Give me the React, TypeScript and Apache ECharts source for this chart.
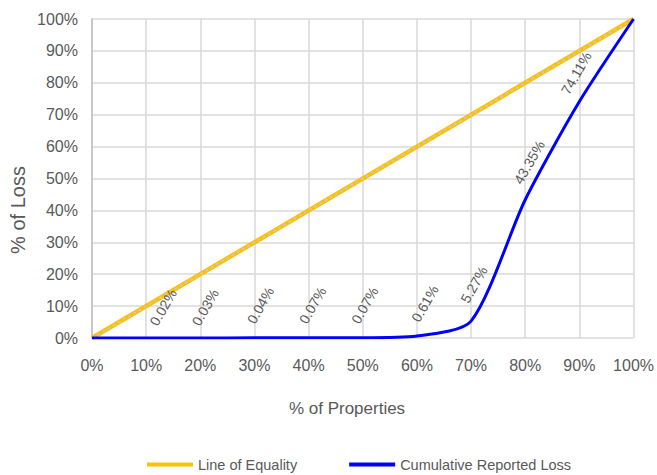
import React, { useEffect, useRef } from "react";
import * as echarts from "echarts";

// Share of properties (x) and cumulative share of reported loss (y), in percent
const propertyShare = [0, 10, 20, 30, 40, 50, 60, 70, 80, 90, 100];
const cumulativeLoss = [0, 0.02, 0.03, 0.04, 0.07, 0.07, 0.61, 5.27, 43.35, 74.11, 100];
const equalityLine = [0, 100];
const tickLabelSuffix = "%";

// Screen-space nudges (px) for each data label's centre, relative to its point
const labelNudgeX = [0, 17, 5, 6, 4, 2, 8, 3, 4, -3, 0];
const labelNudgeY = [0, -30, -30, -32, -32, -32, -32, -36, -37, -28, 0];

const FONT = "'Liberation Sans', Arial, sans-serif";
const GREY_TEXT = "#595959";
const GOLD = "#ffc000";
const BLUE = "#0000ff";
const LABEL_ROTATE = 60;

// ECharts applies label offsets in the label's rotated frame, so convert
function rotatedOffset(sx: number, sy: number): [number, number] {
  const t = (LABEL_ROTATE * Math.PI) / 180;
  const c = Math.cos(t);
  const s = Math.sin(t);
  return [sx * c - sy * s, sx * s + sy * c];
}

export default function App() {
  const ref = useRef<HTMLDivElement>(null);

  useEffect(() => {
    if (!ref.current) return;
    const chart = echarts.init(ref.current, null, { renderer: "svg" });

    const lossPoints = propertyShare.map((x, i) => ({
      value: [x, cumulativeLoss[i]],
      label: {
        show: i > 0 && i < propertyShare.length - 1,
        offset: rotatedOffset(labelNudgeX[i], labelNudgeY[i]),
      },
    }));
    const equalityPoints = equalityLine.map((v) => [v, v]);

    chart.setOption({
      animation: false,
      backgroundColor: "#ffffff",
      textStyle: { fontFamily: FONT },
      grid: { left: 92, right: 21, top: 19, bottom: 137, containLabel: false },
      graphic: [
        {
          type: "text",
          x: 347,
          y: 408,
          style: {
            text: "% of Properties",
            fill: GREY_TEXT,
            font: `17px ${FONT}`,
            align: "center",
            verticalAlign: "middle",
          },
        },
        {
          type: "text",
          x: 18,
          y: 210,
          rotation: Math.PI / 2,
          style: {
            text: "% of Loss",
            fill: GREY_TEXT,
            font: `20px ${FONT}`,
            align: "center",
            verticalAlign: "middle",
          },
        },
      ],
      xAxis: {
        type: "value",
        min: 0,
        max: 100,
        interval: 10,
        axisLine: { show: false },
        axisTick: { show: false },
        axisLabel: {
          color: GREY_TEXT,
          fontSize: 16,
          margin: 19,
          formatter: (v: number) => v + tickLabelSuffix,
        },
        splitLine: { show: true, lineStyle: { color: "#d9d9d9", width: 1.5 } },
      },
      yAxis: {
        type: "value",
        min: 0,
        max: 100,
        interval: 10,
        axisLine: { show: true, lineStyle: { color: "#bfbfbf", width: 1.5 } },
        axisTick: { show: false },
        axisLabel: {
          color: GREY_TEXT,
          fontSize: 16,
          margin: 14,
          formatter: (v: number) => v + tickLabelSuffix,
        },
        splitLine: { show: true, lineStyle: { color: "#d9d9d9", width: 1.5 } },
      },
      legend: {
        top: 452,
        left: 142,
        itemWidth: 46,
        itemHeight: 4,
        itemGap: 52,
        icon: "rect",
        textStyle: { color: GREY_TEXT, fontSize: 14.5, fontFamily: FONT },
        data: [
          { name: "Line of Equality", itemStyle: { color: GOLD } },
          { name: "Cumulative Reported Loss", itemStyle: { color: BLUE, opacity: 1 } },
        ],
      },
      series: [
        {
          name: "Line of Equality",
          type: "line",
          data: equalityPoints,
          symbol: "none",
          lineStyle: { color: GOLD, width: 4.5 },
          itemStyle: { color: GOLD },
          emphasis: { disabled: true },
          z: 3,
        },
        {
          name: "Equality dashes",
          type: "line",
          data: equalityPoints,
          symbol: "none",
          lineStyle: { color: "#c8c8c8", width: 2, type: [3, 3] },
          emphasis: { disabled: true },
          z: 4,
        },
        {
          name: "Cumulative Reported Loss",
          type: "line",
          data: lossPoints,
          smooth: 0.25,
          symbol: "circle",
          symbolSize: 1,
          showSymbol: true,
          lineStyle: { color: BLUE, width: 3 },
          itemStyle: { color: "rgba(0,0,255,0)" },
          emphasis: { disabled: true },
          label: {
            position: "top",
            distance: 0,
            rotate: LABEL_ROTATE,
            align: "center",
            verticalAlign: "middle",
            color: GREY_TEXT,
            fontSize: 14,
            fontFamily: FONT,
            formatter: (p: any) => p.value[1].toFixed(2) + "%",
          },
          z: 5,
        },
      ],
    });

    return () => chart.dispose();
  }, []);

  return (
    <div
      ref={ref}
      style={{ position: "fixed", left: 0, top: 0, width: 657, height: 475 }}
    />
  );
}
